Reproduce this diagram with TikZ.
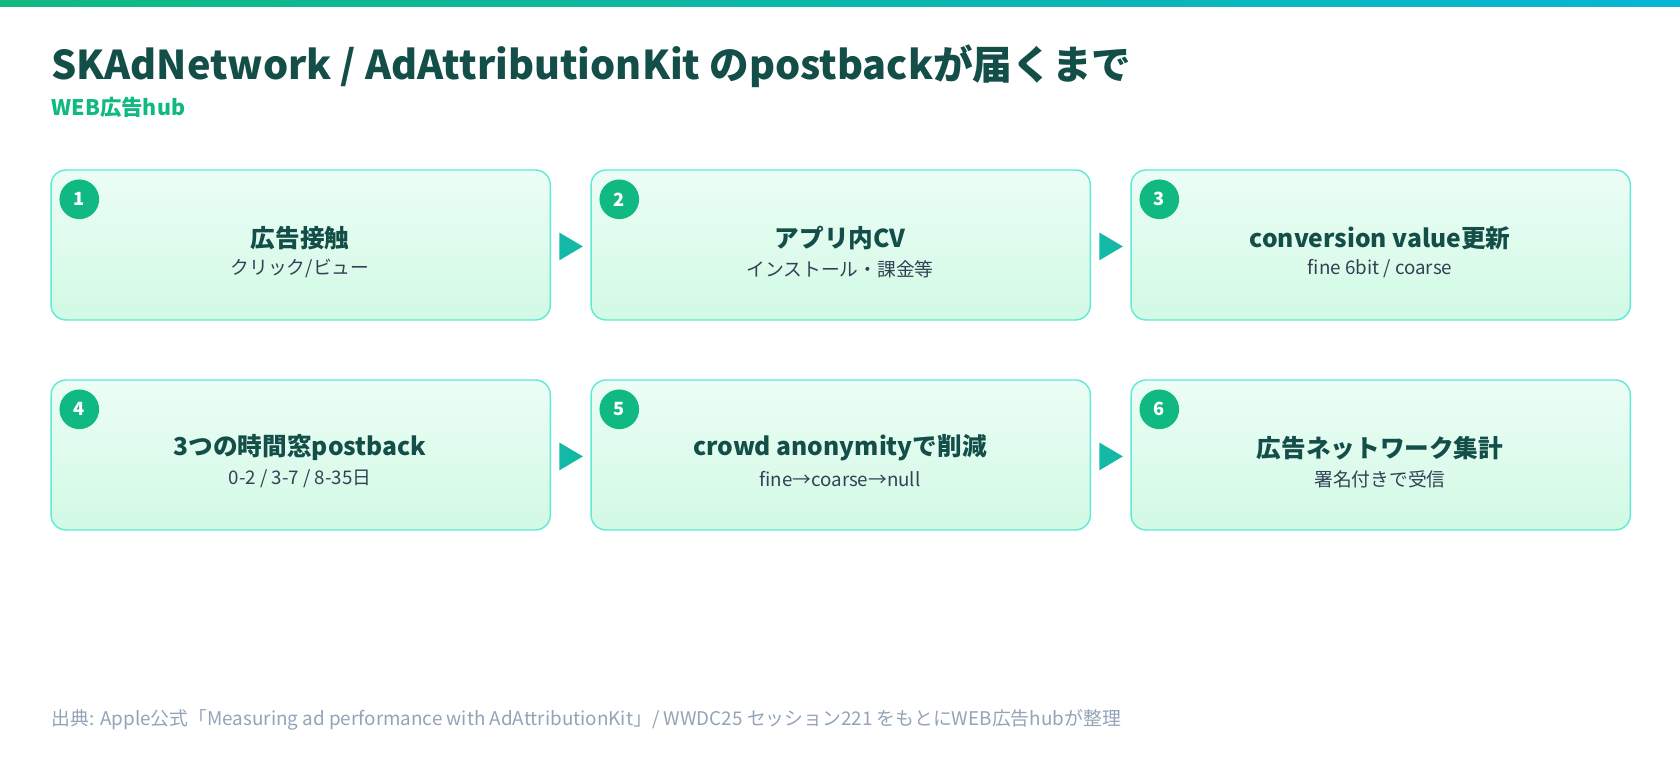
\documentclass[tikz,border=0pt]{standalone}
\usepackage{fontspec}
\setmainfont{Noto Sans CJK JP}
\definecolor{dark}{HTML}{134E48}
\definecolor{grn}{HTML}{10B981}
\definecolor{teal}{HTML}{14B8A6}
\definecolor{bord}{HTML}{5EEAD4}
\definecolor{ftop}{HTML}{ECFDF5}
\definecolor{fbot}{HTML}{D1FAE5}
\definecolor{sub}{HTML}{334155}
\definecolor{foot}{HTML}{94A3B8}
\definecolor{cyn}{HTML}{06B6D4}
\tikzset{
 box/.style={draw=bord,line width=1.3pt,rounded corners=14pt,top color=ftop,bottom color=fbot,minimum width=466pt,minimum height=140pt,anchor=north west},
 num/.style={circle,fill=grn,text=white,font=\bfseries\fontsize{17}{17}\selectfont,minimum size=37pt,inner sep=0pt},
 ttl/.style={text=dark,font=\bfseries\fontsize{23}{23}\selectfont},
 st/.style={text=sub,font=\fontsize{17.5}{17.5}\selectfont},
 tri/.style={fill=teal}
}
\begin{document}
\begin{tikzpicture}[x=1pt,y=-1pt]
\useasboundingbox (0,0) rectangle (1568,709.3);
\fill[left color=grn,right color=cyn] (0,0) rectangle (1568,6);
\node[anchor=base west,inner sep=0,text=dark,font=\bfseries\fontsize{37}{37}\selectfont] (title) at (48,74) {SKAdNetwork / AdAttributionKit のpostbackが届くまで};
\node[anchor=base west,inner sep=0,text=grn,font=\bfseries\fontsize{20}{20}\selectfont] (subt) at (48,108) {WEB広告hub};
\foreach \i/\x/\y/\t/\s in {1/47/158/{広告接触}/{クリック/ビュー},2/551/158/{アプリ内CV}/{インストール・課金等},3/1055/158/{conversion value更新}/{fine 6bit / coarse},4/47/354/{3つの時間窓postback}/{0-2 / 3-7 / 8-35日},5/551/354/{crowd anonymityで削減}/{fine→coarse→null},6/1055/354/{広告ネットワーク集計}/{署名付きで受信}}{
 \node[box] (b\i) at (\x,\y) {};
 \node[num] (n\i) at (\x+27,\y+28) {\i};
 \node[ttl] (t\i) at (\x+233,\y+64) {\t};
 \node[st] (s\i) at (\x+233,\y+93) {\s};
}
\foreach \x in {522,1026}{\foreach \y in {230,426}{
 \fill[tri] (\x,\y-13) -- (\x+22,\y) -- (\x,\y+13) -- cycle;}}
\node[anchor=base west,inner sep=0,text=foot,font=\fontsize{17.6}{17.6}\selectfont] (ft) at (48,677) {出典: Apple公式「Measuring ad performance with AdAttributionKit」/ WWDC25 セッション221 をもとにWEB広告hubが整理};
\end{tikzpicture}
\end{document}
